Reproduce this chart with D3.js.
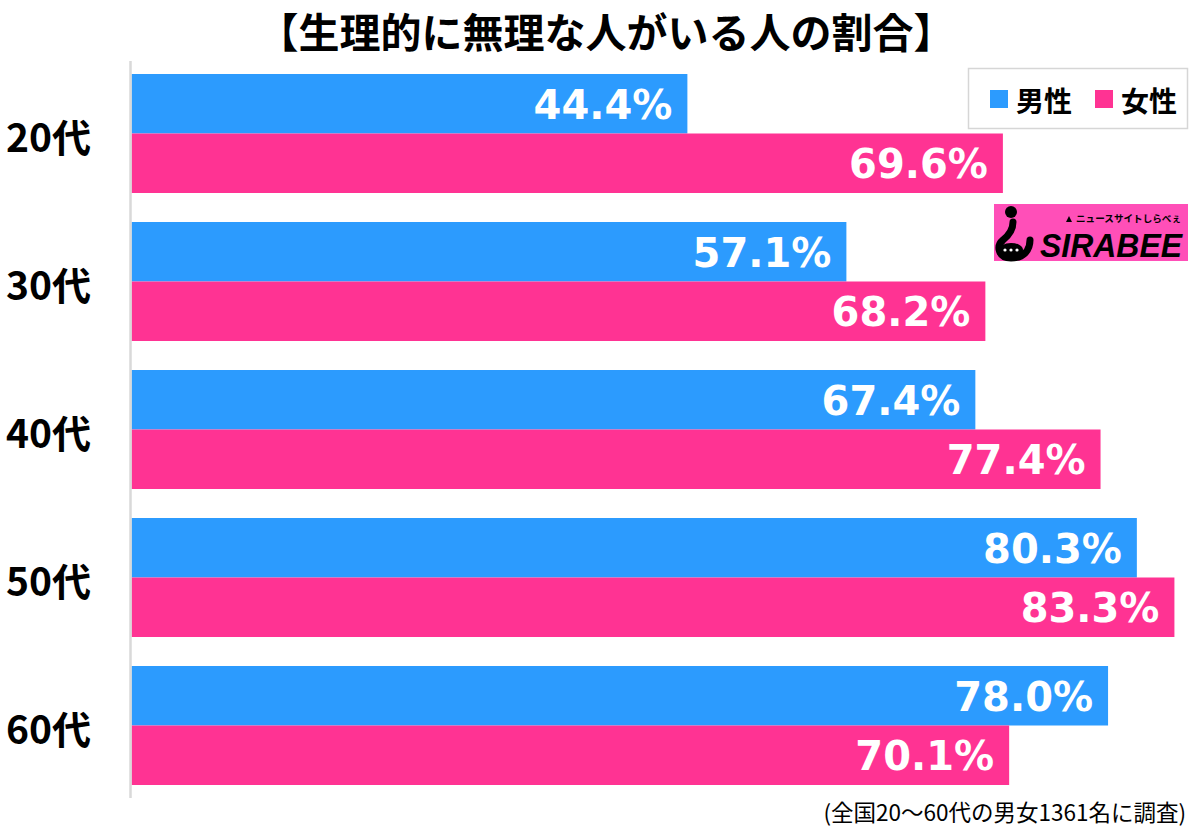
<!DOCTYPE html>
<html><head><meta charset="utf-8">
<script src="https://cdn.jsdelivr.net/npm/d3@7"></script>
<style>
html,body{margin:0;padding:0;background:#fff;}
svg{display:block;}
</style></head>
<body>
<svg id="chart" width="1200" height="835"></svg>
<script>
const title = "【生理的に無理な人がいる人の割合】";
const categories = ["20代","30代","40代","50代","60代"];
const seriesNames = ["男性","女性"];
const male   = [44.4, 57.1, 67.4, 80.3, 78.0];
const female = [69.6, 68.2, 77.4, 83.3, 70.1];
const footnote = "(全国20〜60代の男女1361名に調査)";
const colors = ["#2C9BFE","#FF3393"];

const svg = d3.select("#chart");
const jp = "'Noto Sans CJK JP','Noto Sans',sans-serif";

const x = d3.scaleLinear().domain([0,100]).range([131.5, 131.5+1252]);
const y = d3.scaleBand().domain(categories).range([59.5,799.5]).paddingInner(0.196).paddingOuter(0.098);
const yi = d3.scaleBand().domain(seriesNames).range([0,y.bandwidth()]);

const data = categories.map((c,i)=>({cat:c, vals:[{s:seriesNames[0],v:male[i]},{s:seriesNames[1],v:female[i]}]}));

// title
svg.append("text").attr("x",606).attr("y",30).attr("text-anchor","middle")
  .attr("dominant-baseline","central")
  .style("font-family",jp).style("font-weight","bold").style("font-size","41px").attr("fill","#000")
  .text(title);

// bars
const g = svg.append("g");
const grp = g.selectAll("g.grp").data(data).join("g").attr("class","grp")
  .attr("transform",d=>`translate(0,${y(d.cat)})`);
grp.selectAll("rect").data(d=>d.vals).join("rect")
  .attr("x",x(0)).attr("y",d=>yi(d.s)).attr("height",yi.bandwidth())
  .attr("width",d=>x(d.v)-x(0))
  .attr("fill",(d,i)=>colors[i]);
grp.selectAll("text.val").data(d=>d.vals).join("text").attr("class","val")
  .attr("x",d=>x(d.v)-15).attr("y",d=>yi(d.s)+yi.bandwidth()/2+1)
  .attr("text-anchor","end").attr("dominant-baseline","central")
  .style("font-family","'DejaVu Sans',sans-serif").style("font-weight","bold").style("font-size","40px")
  .attr("fill","#fff")
  .text(d=>d.v.toFixed(1)+"%");

// axis line
svg.append("line").attr("x1",130.5).attr("x2",130.5).attr("y1",61).attr("y2",798)
  .attr("stroke","#d9d9d9").attr("stroke-width",2.5);

// category labels
svg.selectAll("text.cat").data(categories).join("text").attr("class","cat")
  .attr("x",6).attr("y",d=>y(d)+y.bandwidth()/2+1)
  .attr("dominant-baseline","central")
  .style("font-family",jp).style("font-weight","bold").style("font-size","39px").attr("fill","#000")
  .text(d=>d);

// legend
const lg = svg.append("g");
lg.append("rect").attr("x",968.5).attr("y",68.5).attr("width",219).attr("height",60)
  .attr("fill","#fff").attr("stroke","#d6d6d6").attr("stroke-width",1.5);
const lx = [990, 1095];
const ltx = [1016, 1121];
seriesNames.forEach((s,i)=>{
  lg.append("rect").attr("x",lx[i]).attr("y",90).attr("width",18).attr("height",18).attr("fill",colors[i]);
  lg.append("text").attr("x",ltx[i]).attr("y",100).attr("dominant-baseline","central")
    .style("font-family",jp).style("font-weight","bold").style("font-size","28px").attr("fill","#000").text(s);
});

// logo
const logo = svg.append("g");
logo.append("rect").attr("x",994).attr("y",204).attr("width",194).attr("height",57).attr("fill","#FF4FB8");
logo.append("circle").attr("cx",1011).attr("cy",212).attr("r",6).attr("fill","#000");
logo.append("path").attr("d","M1013,222 C1013,230 1008,236 1003,240 C996,246 998,258 1011,258 C1024,258 1030,250 1030,240")
  .attr("fill","none").attr("stroke","#000").attr("stroke-width",7).attr("stroke-linecap","round");
logo.append("ellipse").attr("cx",1011).attr("cy",250).attr("rx",12).attr("ry",7).attr("fill","#000");
[1005,1011,1017].forEach(cx=>logo.append("circle").attr("cx",cx).attr("cy",250).attr("r",1.6).attr("fill","#fff"));
logo.append("text").attr("x",1076).attr("y",218).attr("text-anchor","start").attr("dominant-baseline","central")
  .style("font-family",jp).style("font-weight","bold").style("font-size","9.6px").attr("fill","#000")
  .text("ニュースサイトしらべぇ");
logo.append("path").attr("d","M1069,216 L1072,222 L1066,222 Z").attr("fill","#000");
logo.append("text").attr("x",1040).attr("y",245).attr("text-anchor","start").attr("dominant-baseline","central")
  .attr("textLength",142).attr("lengthAdjust","spacingAndGlyphs")
  .style("font-family","'Liberation Sans',Arial,sans-serif").style("font-weight","bold").style("font-style","italic").style("font-size","34px").attr("fill","#000")
  .text("SIRABEE");

// footnote
svg.append("text").attr("x",1186).attr("y",811).attr("text-anchor","end").attr("dominant-baseline","central")
  .style("font-family",jp).style("font-size","22.5px").attr("fill","#000").text(footnote);
</script>
</body></html>
